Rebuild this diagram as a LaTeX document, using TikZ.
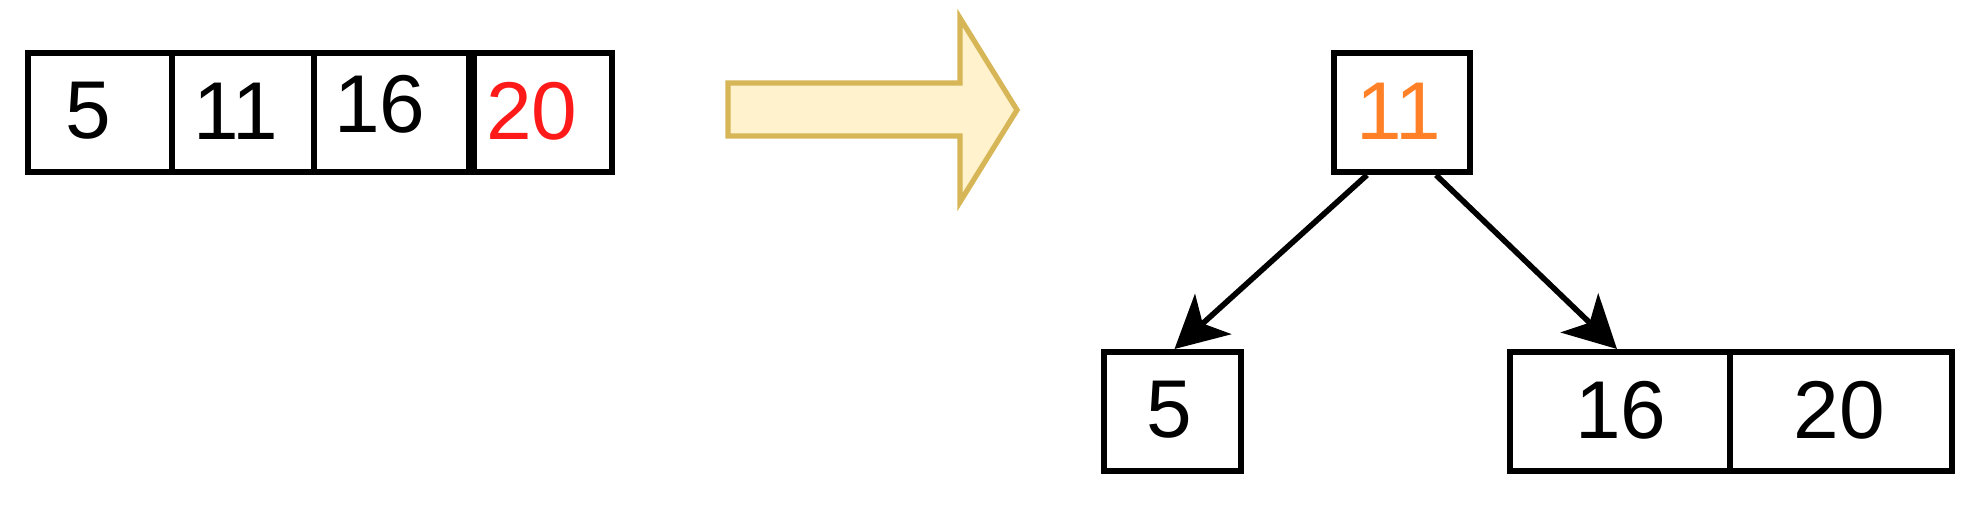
\documentclass[tikz,border=0pt]{standalone}
\usepackage{fontspec}
\setmainfont{Liberation Sans}
\usetikzlibrary{arrows.meta}
\definecolor{fillY}{HTML}{FFF2CC}
\definecolor{drawY}{HTML}{D6B656}
\definecolor{redT}{HTML}{FF1A1A}
\definecolor{orT}{HTML}{FF8026}
\begin{document}
\begin{tikzpicture}[x=0.5pt,y=-0.5pt,
  cellbox/.style={draw=black, line width=3pt, inner sep=0pt, anchor=north west, minimum height=59.5pt},
  txt/.style={font=\fontsize{41}{41}\selectfont, inner sep=0pt},
  conn/.style={line width=2.8pt, -{Stealth[length=26pt,width=27pt,inset=7pt]}}]
\useasboundingbox (0,0) rectangle (1978,504);
% array
\node[cellbox, minimum width=72pt] (a1) at (24.5,50) {};
\node[cellbox, minimum width=71pt] (a2) at (168.5,50) {};
\node[cellbox, minimum width=77.5pt] (a3) at (310.5,50) {};
\node[cellbox, minimum width=69pt] (a4) at (470.5,50) {};
\node[txt] (t1) at (88,111) {5};
\node[txt] (t2) at (236,111) {11};
\node[txt] (t3) at (380,104) {16};
\node[txt, text=redT] (t4) at (532,111) {20};
% big arrow
\draw[draw=drawY, fill=fillY, line width=2.6pt] (728,83) -- (960,83) -- (960,18) -- (1017,110) -- (960,202) -- (960,136) -- (728,136) -- cycle;
% tree
\node[cellbox, minimum width=68pt] (root) at (1331,50) {};
\node[txt, text=orT] (r1) at (1399,111) {11};
\node[cellbox, minimum width=68.5pt] (c1) at (1101,349) {};
\node[txt] (c1t) at (1169,410) {5};
\node[cellbox, minimum width=110pt] (c2a) at (1507,349) {};
\node[cellbox, minimum width=111pt] (c2b) at (1727,349) {};
\node[txt] (c2at) at (1621,410) {16};
\node[txt] (c2bt) at (1839,410) {20};
\draw[conn] ([xshift=-17.5pt]root.south) -- ([xshift=1pt]c1.north);
\draw[conn] ([xshift=17pt]root.south) -- ([xshift=-1.5pt]c2a.north);
\end{tikzpicture}
\end{document}
